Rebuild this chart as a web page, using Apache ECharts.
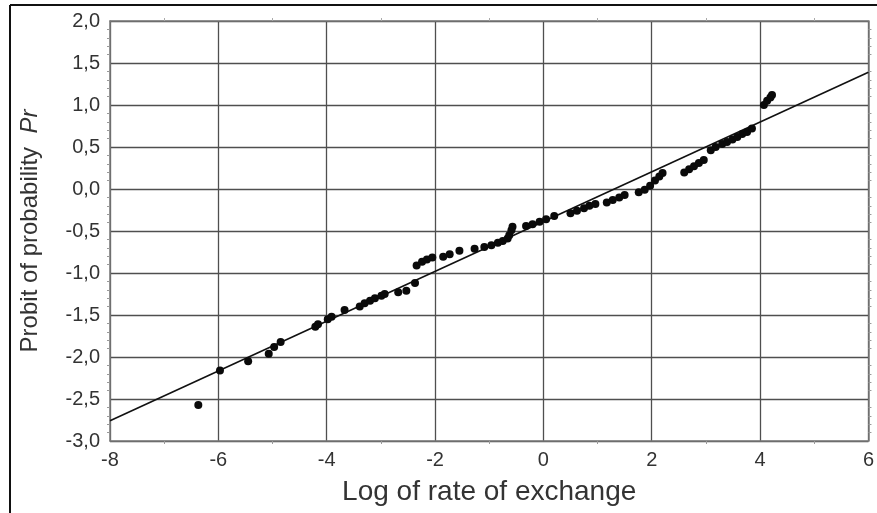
<!DOCTYPE html>
<html>
<head>
<meta charset="utf-8">
<script src="https://cdn.jsdelivr.net/npm/echarts@6/dist/echarts.min.js"></script>
<style>
  html, body { margin: 0; padding: 0; background: #fff; }
  #chart { width: 877px; height: 513px; }
</style>
</head>
<body>
<div id="chart"></div>
<script>
// Observed points: log of exchange rate vs probit of cumulative probability
const logRate = [
  -6.37, -5.97, -5.45, -5.07, -4.97, -4.85, -4.21, -4.16, -3.98, -3.91,
  -3.67, -3.39, -3.30, -3.20, -3.11, -2.99, -2.93, -2.68, -2.53, -2.37,
  -2.34, -2.24, -2.15, -2.05, -1.85, -1.73, -1.55, -1.27, -1.09, -0.96,
  -0.84, -0.75, -0.66, -0.63, -0.59, -0.57, -0.32, -0.20, -0.07, 0.05,
  0.20, 0.50, 0.62, 0.75, 0.85, 0.96, 1.17, 1.28, 1.40, 1.50,
  1.76, 1.87, 1.97, 2.06, 2.14, 2.20, 2.60, 2.69, 2.78, 2.87,
  2.96, 3.09, 3.18, 3.30, 3.39, 3.49, 3.58, 3.67, 3.76, 3.85,
  4.07, 4.13, 4.19, 4.22
];
const probit = [
  -2.57, -2.16, -2.05, -1.96, -1.88, -1.82, -1.64, -1.61, -1.55, -1.52,
  -1.44, -1.40, -1.36, -1.33, -1.30, -1.27, -1.25, -1.23, -1.21, -1.12,
  -0.91, -0.865, -0.84, -0.815, -0.806, -0.778, -0.735, -0.71, -0.69, -0.67,
  -0.64, -0.62, -0.59, -0.55, -0.49, -0.45, -0.44, -0.42, -0.39, -0.36,
  -0.32, -0.29, -0.26, -0.23, -0.20, -0.18, -0.16, -0.13, -0.10, -0.07,
  -0.04, -0.01, 0.04, 0.10, 0.15, 0.19, 0.195, 0.235, 0.27, 0.31,
  0.345, 0.46, 0.50, 0.535, 0.56, 0.59, 0.62, 0.655, 0.68, 0.72,
  1.00, 1.05, 1.09, 1.12
];
// Fitted straight line, end points at the axis limits
const fitX = [-8, 6];
const fitY = [-2.76, 1.39];

const xTicks = [-8, -6, -4, -2, 0, 2, 4, 6];
const yTicks = [-3.0, -2.5, -2.0, -1.5, -1.0, -0.5, 0.0, 0.5, 1.0, 1.5, 2.0];

const chart = echarts.init(document.getElementById('chart'));
const font = 'Liberation Sans, Arial, sans-serif';
const gridColor = '#4f4f4f';
const frameColor = '#7a7a7a';
const textColor = '#333';

const commaFmt = v => v.toFixed(1).replace('.', ',');

const baseX = {
  type: 'value', min: xTicks[0], max: xTicks[xTicks.length - 1], interval: 2
};
const baseY = {
  type: 'value', min: yTicks[0], max: yTicks[yTicks.length - 1], interval: 0.5
};

chart.setOption({
  animation: false,
  backgroundColor: '#fff',
  grid: { left: 110, top: 21, right: 5, bottom: 72, show: false },
  xAxis: [
    Object.assign({}, baseX, {
      position: 'bottom',
      name: 'Log of rate of exchange',
      nameLocation: 'middle',
      nameGap: 37,
      nameTextStyle: { fontFamily: font, fontSize: 28, color: textColor },
      axisLine: { show: true, onZero: false, lineStyle: { color: frameColor, width: 1.5 } },
      axisTick: { show: false },
      minorTick: { show: true, splitNumber: 2, length: 3, lineStyle: { color: '#999' } },
      axisLabel: { fontFamily: font, fontSize: 20, color: textColor, margin: 9 },
      splitLine: { show: true, lineStyle: { color: gridColor, width: 1.3 } }
    }),
    Object.assign({}, baseX, {
      position: 'top',
      axisLine: { show: true, onZero: false, lineStyle: { color: frameColor, width: 1.5 } },
      axisTick: { show: false },
      minorTick: { show: true, splitNumber: 2, length: 3, lineStyle: { color: '#aaa' } },
      axisLabel: { show: false },
      splitLine: { show: false }
    })
  ],
  yAxis: [
    Object.assign({}, baseY, {
      position: 'left',
      name: '{a|Probit of probability  }{b|Pr}',
      nameLocation: 'middle',
      nameGap: 68,
      nameRotate: 90,
      nameTextStyle: {
        fontFamily: font, fontSize: 24, color: textColor,
        rich: {
          a: { fontFamily: font, fontSize: 24, color: textColor },
          b: { fontFamily: font, fontSize: 24, color: textColor, fontStyle: 'italic' }
        }
      },
      axisLine: { show: true, onZero: false, lineStyle: { color: frameColor, width: 1.5 } },
      axisTick: { show: false },
      minorTick: { show: true, splitNumber: 5, length: 3, lineStyle: { color: '#999' } },
      axisLabel: { fontFamily: font, fontSize: 20, color: textColor, margin: 10, formatter: commaFmt },
      splitLine: { show: true, lineStyle: { color: gridColor, width: 1.3 } }
    }),
    Object.assign({}, baseY, {
      position: 'right',
      axisLine: { show: true, onZero: false, lineStyle: { color: frameColor, width: 1.5 } },
      axisTick: { show: false },
      minorTick: { show: true, splitNumber: 5, length: 3, lineStyle: { color: '#999' } },
      axisLabel: { show: false },
      splitLine: { show: false }
    })
  ],
  series: [
    {
      type: 'line',
      data: fitX.map((x, i) => [x, fitY[i]]),
      symbol: 'none',
      lineStyle: { color: '#111', width: 1.6 },
      silent: true,
      z: 3
    },
    {
      type: 'scatter',
      data: logRate.map((x, i) => [x, probit[i]]),
      symbol: 'circle',
      symbolSize: 8,
      itemStyle: { color: '#0a0a0a', opacity: 1 },
      z: 4
    }
  ],
  graphic: [
    // page frame around the figure
    { type: 'line', shape: { x1: 10, y1: 5, x2: 877, y2: 5 }, style: { stroke: '#111', lineWidth: 2 } },
    { type: 'line', shape: { x1: 10, y1: 5, x2: 10, y2: 513 }, style: { stroke: '#111', lineWidth: 2 } }
  ]
});
</script>
</body>
</html>
